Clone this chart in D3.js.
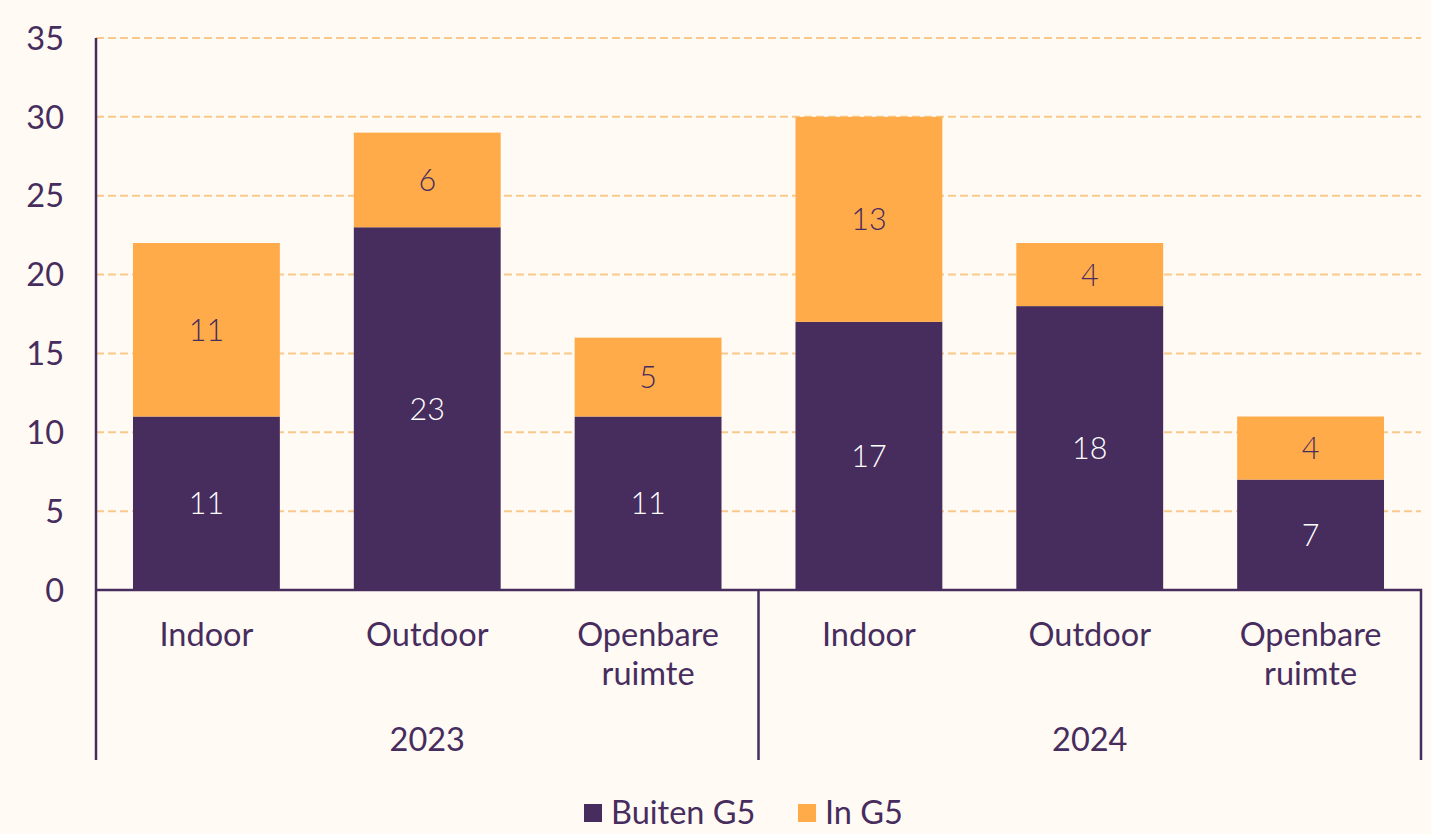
<!DOCTYPE html>
<html lang="nl">
<head>
<meta charset="UTF-8">
<title>Buiten G5 / In G5</title>
<script src="https://cdn.jsdelivr.net/npm/d3@7"></script>
<style>
  html, body { margin: 0; padding: 0; background: #fffaf3; }
  text { font-family: Lato, "Open Sans", sans-serif; fill: #472c5e; }
  .grid line { stroke: #f9c98c; stroke-width: 2; stroke-dasharray: 8 4; }
  .axis-line { stroke: #472c5e; stroke-width: 2.5; fill: none; }
</style>
</head>
<body>
<div id="chart"></div>
<script>
// data
var years = ['2023', '2024'];
var categories = ['Indoor', 'Outdoor', 'Openbare ruimte'];
var buitenG5 = [11, 23, 11, 17, 18, 7];
var inG5 = [11, 6, 5, 13, 4, 4];
var yTicks = [0, 5, 10, 15, 20, 25, 30, 35];
var seriesNames = ['Buiten G5', 'In G5'];
var seriesColors = ['#472c5e', '#ffab4a'];

// plot box (window.top is reserved, hence the prefixes)
var width = 1431, height = 834,
    plotLeft = 96, plotRight = 1421, plotTop = 38, plotBottom = 590, axisFloor = 760;

var svg = d3.select('#chart').append('svg')
    .attr('width', width)
    .attr('height', height);

// one slot per year/category pair
var slots = [];
years.forEach(function (yr, yi) {
  categories.forEach(function (c, ci) {
    var i = yi * categories.length + ci;
    slots.push({ key: yr + '-' + c, year: yr, cat: c, buiten: buitenG5[i], inn: inG5[i] });
  });
});

var x = d3.scaleBand()
    .domain(slots.map(function (d) { return d.key; }))
    .range([plotLeft, plotRight])
    .paddingInner(0.335)
    .paddingOuter(0.1675);

var y = d3.scaleLinear().domain([0, 35]).range([plotBottom, plotTop]);

// grid
svg.append('g').attr('class', 'grid')
  .selectAll('line')
  .data(yTicks.filter(function (t) { return t > 0; }))
  .enter().append('line')
    .attr('x1', plotLeft).attr('x2', plotRight)
    .attr('y1', y).attr('y2', y);

// y tick labels
svg.append('g').selectAll('text')
  .data(yTicks)
  .enter().append('text')
    .attr('x', 64)
    .attr('y', y)
    .attr('dy', '0.36em')
    .attr('text-anchor', 'end')
    .style('font-size', '32.5px')
    .text(function (d) { return d; });

// bars
var bars = svg.append('g').selectAll('g')
  .data(slots)
  .enter().append('g');

bars.append('rect')
    .attr('x', function (d) { return x(d.key); })
    .attr('width', x.bandwidth())
    .attr('y', function (d) { return y(d.buiten); })
    .attr('height', function (d) { return y(0) - y(d.buiten); })
    .attr('fill', seriesColors[0]);

bars.append('rect')
    .attr('x', function (d) { return x(d.key); })
    .attr('width', x.bandwidth())
    .attr('y', function (d) { return y(d.buiten + d.inn); })
    .attr('height', function (d) { return y(d.buiten) - y(d.buiten + d.inn); })
    .attr('fill', seriesColors[1]);

bars.append('text')
    .attr('x', function (d) { return x(d.key) + x.bandwidth() / 2; })
    .attr('y', function (d) { return y(d.buiten / 2); })
    .attr('dy', '0.36em')
    .attr('text-anchor', 'middle')
    .style('font-size', '30.5px')
    .style('font-weight', 300)
    .style('fill', '#ffffff')
    .text(function (d) { return d.buiten; });

bars.append('text')
    .attr('x', function (d) { return x(d.key) + x.bandwidth() / 2; })
    .attr('y', function (d) { return y(d.buiten + d.inn / 2); })
    .attr('dy', '0.36em')
    .attr('text-anchor', 'middle')
    .style('font-size', '30.5px')
    .style('font-weight', 300)
    .text(function (d) { return d.inn; });

// axes lines
var mid = (plotLeft + plotRight) / 2;
svg.append('path').attr('class', 'axis-line')
    .attr('d', 'M' + plotLeft + ',' + plotTop + 'V' + axisFloor);
svg.append('path').attr('class', 'axis-line')
    .attr('d', 'M' + plotLeft + ',' + plotBottom + 'H' + plotRight + 'V' + axisFloor);
svg.append('path').attr('class', 'axis-line')
    .attr('d', 'M' + mid + ',' + plotBottom + 'V' + axisFloor);

// category labels
var catLabels = svg.append('g').selectAll('text')
  .data(slots)
  .enter().append('text')
    .attr('text-anchor', 'middle')
    .attr('x', function (d) { return x(d.key) + x.bandwidth() / 2; })
    .attr('y', 646)
    .style('font-size', '32.5px');

catLabels.each(function (d) {
  var words = d.cat.split(' ');
  var t = d3.select(this);
  words.forEach(function (w, i) {
    t.append('tspan')
      .attr('x', x(d.key) + x.bandwidth() / 2)
      .attr('dy', i === 0 ? 0 : 39)
      .text(w);
  });
});

// year labels
svg.append('g').selectAll('text')
  .data(years)
  .enter().append('text')
    .attr('text-anchor', 'middle')
    .attr('x', function (d, i) { return plotLeft + (plotRight - plotLeft) / 4 * (2 * i + 1); })
    .attr('y', 751)
    .style('font-size', '32.5px')
    .text(function (d) { return d; });

// legend
var legend = svg.append('g').selectAll('g')
  .data(seriesNames)
  .enter().append('g')
    .attr('transform', function (d, i) { return 'translate(' + (584 + i * 214) + ',0)'; });

legend.append('rect')
    .attr('y', 804)
    .attr('width', 18).attr('height', 18)
    .attr('fill', function (d, i) { return seriesColors[i]; });

legend.append('text')
    .attr('x', 27)
    .attr('y', 824)
    .style('font-size', '32.5px')
    .text(function (d) { return d; });
</script>
</body>
</html>
